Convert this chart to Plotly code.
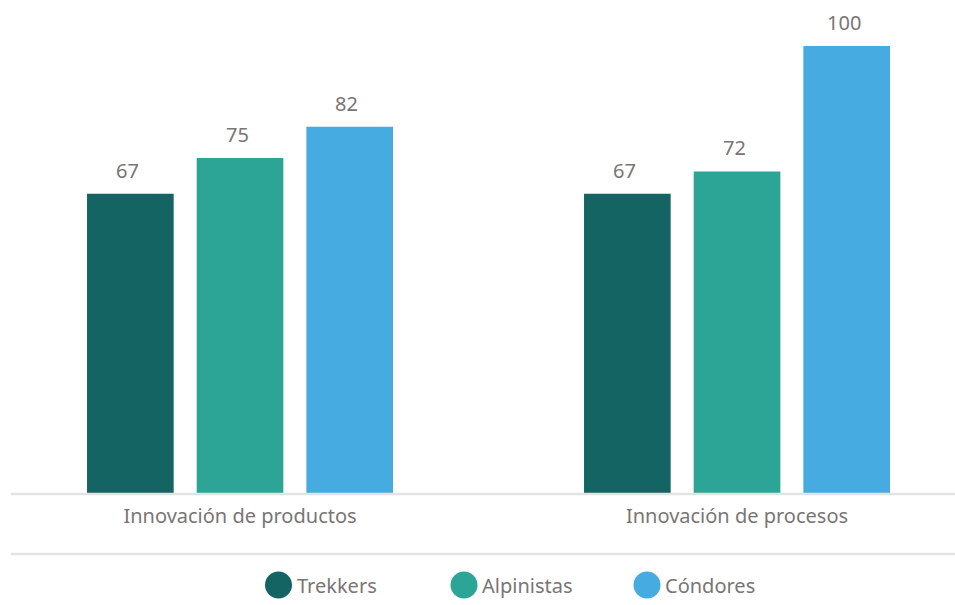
import plotly.graph_objects as go

# Data
categories = ["Innovación de productos", "Innovación de procesos"]
series_names = ["Trekkers", "Alpinistas", "Cóndores"]
trekkers = [67, 67]
alpinistas = [75, 72]
condores = [82, 100]
series_values = [trekkers, alpinistas, condores]
colors = ["#146464", "#2ca597", "#46abe0"]

FONT = "Noto Sans"
FS = 20
TEXT_COLOR = "#7a7575"
W, H = 955, 605
M_L, M_R, M_T, M_B = 11, 0, 0, 111
PLOT_H = H - M_T - M_B

BARGAP = 0.338
GROUPGAP = 0.21
slot = (1 - BARGAP) / len(series_names)

fig = go.Figure()
for i, (name, vals, col) in enumerate(zip(series_names, series_values, colors)):
    fig.add_trace(go.Bar(
        x=list(range(len(categories))), y=vals, name=name,
        marker=dict(color=col, line=dict(width=0)),
        showlegend=False, hoverinfo="skip",
    ))
    # value labels above each bar
    offset = (i - (len(series_names) - 1) / 2) * slot
    for j, v in enumerate(vals):
        fig.add_annotation(
            x=j + offset, y=v, xref="x", yref="y", text=str(v),
            showarrow=False, yanchor="bottom", yshift=8, xshift=-3,
            font=dict(family=FONT, size=FS, color=TEXT_COLOR),
        )

shapes = []
# baseline and bottom separator
for yp in [0, -(554 - (M_T + PLOT_H)) / PLOT_H]:
    shapes.append(dict(type="line", xref="paper", yref="paper", x0=0, x1=1,
                       y0=yp, y1=yp, line=dict(color="#e3e3e3", width=2.5)))

# custom legend with round markers
legend_x = [278.5, 464, 647]
legend_y = -(585 - (M_T + PLOT_H)) / PLOT_H
plot_w = W - M_L - M_R
for name, col, lx in zip(series_names, colors, legend_x):
    xp = (lx - M_L) / plot_w
    shapes.append(dict(type="circle", xref="paper", yref="paper",
                       xsizemode="pixel", ysizemode="pixel",
                       xanchor=xp, yanchor=legend_y,
                       x0=-13.5, x1=13.5, y0=-13.5, y1=13.5,
                       fillcolor=col, line=dict(width=0)))
    fig.add_annotation(x=xp, y=legend_y, xref="paper", yref="paper",
                       text=name, showarrow=False, xanchor="left",
                       xshift=16, yanchor="middle",
                       font=dict(family=FONT, size=FS, color=TEXT_COLOR))

fig.update_layout(
    width=W, height=H,
    margin=dict(l=M_L, r=M_R, t=M_T, b=M_B),
    paper_bgcolor="white", plot_bgcolor="white",
    barmode="group", bargap=BARGAP, bargroupgap=GROUPGAP,
    shapes=shapes,
    font=dict(family=FONT, size=FS, color=TEXT_COLOR),
    xaxis=dict(
        tickmode="array", tickvals=list(range(len(categories))),
        ticktext=categories, range=[-0.4608, 1.4386],
        showgrid=False, zeroline=False, showline=False, ticks="",
        ticklabelstandoff=8,
        tickfont=dict(family=FONT, size=FS, color=TEXT_COLOR),
    ),
    yaxis=dict(range=[0, PLOT_H / 4.48], visible=False, showgrid=False),
)

fig.write_html("out.html")
